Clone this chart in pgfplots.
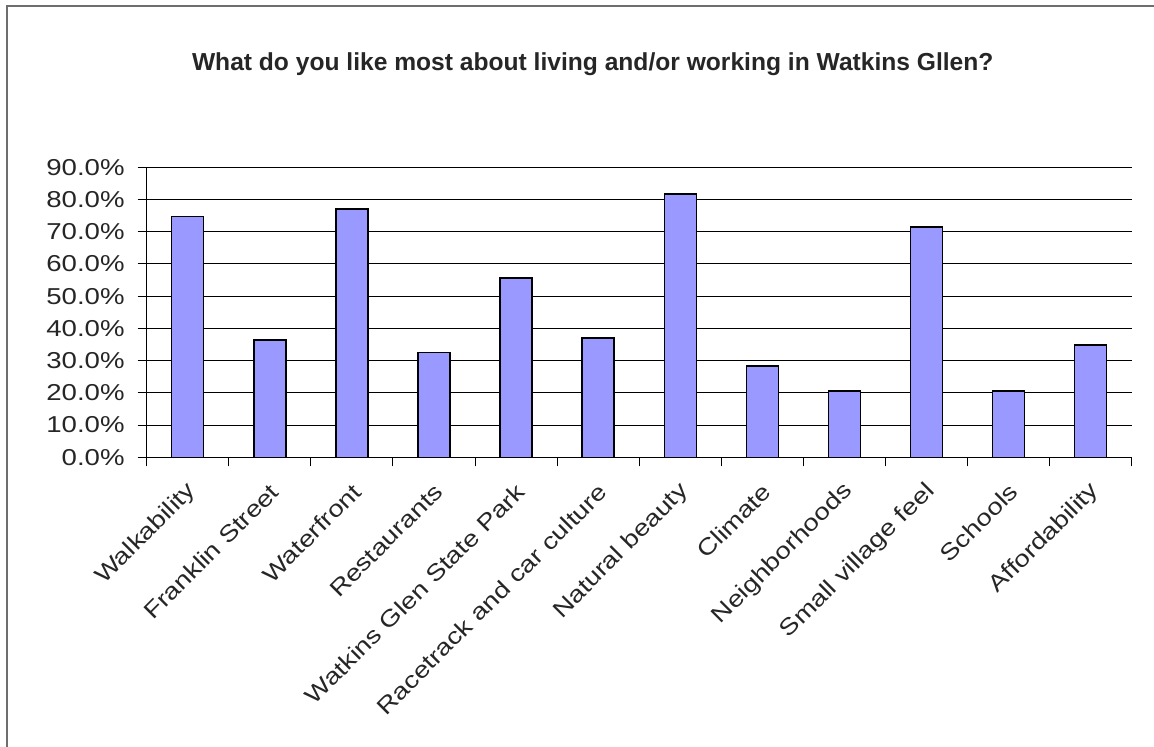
\documentclass[border=0pt]{standalone}
\usepackage{fontspec}
\setmainfont{Liberation Sans}
\newfontfamily\stretchsans[FakeStretch=1.2]{Liberation Sans}
\usepackage{pgfplots}
\pgfplotsset{compat=1.18}
\definecolor{barblue}{RGB}{153,153,255}
\definecolor{framegray}{RGB}{110,110,110}
\begin{document}
\begin{tikzpicture}
\useasboundingbox (-73.35pt,-144.85pt) rectangle (503.65pt,228.65pt);
\fill[white] (-73.35pt,-144.85pt) rectangle (503.65pt,228.65pt);
\draw[framegray, line width=1pt] (-69.85pt,-144.85pt) -- (-69.85pt,225.65pt) -- (503.65pt,225.65pt);
\begin{axis}[
  at={(0pt,0pt)}, anchor=south west,
  scale only axis,
  width=492.5pt, height=145pt,
  xmin=-0.5, xmax=11.5,
  ymin=0, ymax=90,
  axis x line=bottom, axis y line=left,
  axis line style={-, black, line width=0.6pt},
  xtick={-0.5,0.5,...,11.5},
  x tick label as interval,
  xticklabels={Walkability,Franklin Street,Waterfront,Restaurants,Watkins Glen State Park,Racetrack and car culture,Natural beauty,Climate,Neighborhoods,Small village feel,Schools,Affordability},
  ytick={0,10,...,90},
  yticklabels={0.0\%,10.0\%,20.0\%,30.0\%,40.0\%,50.0\%,60.0\%,70.0\%,80.0\%,90.0\%},
  tick align=outside,
  major tick length=4.5pt,
  tick style={black, line width=0.5pt},
  ymajorgrids,
  major grid style={black, line width=0.5pt},
  yticklabel style={font=\stretchsans\fontsize{11.5}{12}\selectfont, text=black!85, xshift=-3pt},
  xticklabel style={font=\stretchsans\fontsize{11.5}{12}\selectfont, text=black!85, xshift=2.5pt, yshift=-10.7pt, rotate=45, anchor=east, inner sep=0pt},
  /pgf/number format/assume math mode=true,
]
\addplot[ybar, bar width=16pt, fill=barblue, draw=black, line width=0.75pt]
  coordinates {(0,74.7) (1,36.4) (2,77.0) (3,32.5) (4,55.6) (5,37.1) (6,81.7) (7,28.4) (8,20.6) (9,71.4) (10,20.6) (11,34.9)};
\end{axis}
\node[font=\bfseries\fontsize{12.3}{14}\selectfont, text=black!85] at (223pt,196.6pt) {What do you like most about living and/or working in Watkins Gllen?};
\end{tikzpicture}
\end{document}
